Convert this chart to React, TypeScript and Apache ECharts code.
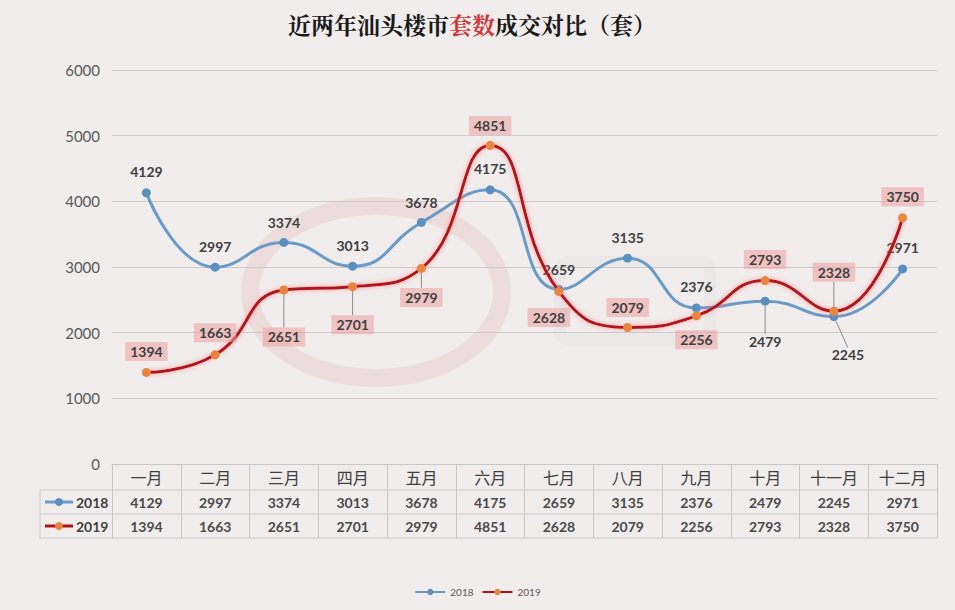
import React, { useEffect, useRef } from "react";
import * as echarts from "echarts";

const months = ["一月", "二月", "三月", "四月", "五月", "六月", "七月", "八月", "九月", "十月", "十一月", "十二月"];
const sales2018 = [4129, 2997, 3374, 3013, 3678, 4175, 2659, 3135, 2376, 2479, 2245, 2971];
const sales2019 = [1394, 1663, 2651, 2701, 2979, 4851, 2628, 2079, 2256, 2793, 2328, 3750];
const seriesNames = ["2018", "2019"];

// label placement (dx, dy from the point) and guide-line flags
const shift2018: number[][] = [[0, -21], [0, -21], [0, -20], [0, -21], [0, -20], [0, -21], [0, -20], [0, -21], [0, -21], [0, 40], [14, 38], [0, -21]];
const guide2018 = [false, false, false, false, false, false, false, false, false, true, true, false];
const shift2019: number[][] = [[0, -21], [0, -22], [0, 47], [0, 38], [0, 29], [0, -20], [-10, 26], [0, -20], [0, 24], [0, -21], [0, -39], [0, -21]];
const guide2019 = [false, false, true, true, true, false, false, false, false, false, true, false];

const BLUE = "#6a9bc6";
const BLUE_DOT = "#5b8fc0";
const RED = "#b0121a";
const ORANGE = "#e8853e";
const TEXT = "#404040";

export default function App() {
  const ref = useRef<HTMLDivElement>(null);
  useEffect(() => {
    if (!ref.current) return;
    const chart = echarts.init(ref.current, undefined, { renderer: "svg" });
    const gridLeft = 112, gridRight = 18, gridTop = 70, gridBottom = 146;
    const H = 610, W = 955;
    const axisY = H - gridBottom;
    const rowH = 24;
    const tableRows = [axisY + 26, axisY + 50, axisY + 74];

    const labelBase = {
      show: true,
      position: "inside" as const,
      fontFamily: "Lato, 'Noto Sans', sans-serif",
      fontWeight: "bold" as const,
      fontSize: 14,
      color: TEXT,
    };

    const mk = (vals: number[], guides: boolean[]) =>
      vals.map((v, i) => ({ value: v, labelLine: { show: guides[i] } }));

    const legendCell = (y: number, color: string, dot: string, name: string) => [
      { type: "line", shape: { x1: 45, y1: y, x2: 73, y2: y }, style: { stroke: color, lineWidth: 3 }, z: 10 },
      { type: "circle", shape: { cx: 59, cy: y, r: 4 }, style: { fill: dot }, z: 11 },
      {
        type: "text", x: 76, y: y, z: 10,
        style: { text: name, fill: TEXT, font: "bold 14px Lato, 'Noto Sans', sans-serif", textVerticalAlign: "middle" },
      },
    ];

    const option: any = {
      animation: false,
      backgroundColor: "#f1eded",
      title: {
        text: "{a|近两年汕头楼市}{b|套数}{a|成交对比（套）}",
        left: 283,
        top: 8,
        textStyle: {
          rich: {
            a: { fontSize: 23, fontWeight: "bold", color: "#1a1a1a", fontFamily: "'Noto Serif CJK SC', 'Noto Sans CJK SC', serif" },
            b: { fontSize: 23, fontWeight: "bold", color: "#d2373a", fontFamily: "'Noto Serif CJK SC', 'Noto Sans CJK SC', serif" },
          },
        },
      },
      legend: {
        bottom: 8,
        left: "center",
        itemWidth: 30,
        itemHeight: 8,
        itemGap: 8,
        textStyle: { fontSize: 10, color: "#595959", fontFamily: "Lato, sans-serif" },
        data: seriesNames,
      },
      grid: { left: gridLeft, right: gridRight, top: gridTop, bottom: gridBottom, containLabel: false },
      xAxis: [
        {
          type: "category",
          data: months,
          boundaryGap: true,
          axisLine: { show: true, lineStyle: { color: "#c8c8c8" } },
          axisTick: { show: true, length: 74, lineStyle: { color: "#c8c8c8" } },
          axisLabel: { margin: 5, fontSize: 16, color: TEXT, fontFamily: "'Noto Sans CJK SC', sans-serif" },
        },
        {
          type: "category",
          data: sales2018.map(String),
          position: "bottom",
          offset: 26,
          axisLine: { show: false },
          axisTick: { show: false },
          axisLabel: { margin: 5, fontSize: 14, fontWeight: "bold", color: "#4a4a4a", fontFamily: "Lato, sans-serif" },
        },
        {
          type: "category",
          data: sales2019.map(String),
          position: "bottom",
          offset: 50,
          axisLine: { show: false },
          axisTick: { show: false },
          axisLabel: { margin: 5, fontSize: 14, fontWeight: "bold", color: "#4a4a4a", fontFamily: "Lato, sans-serif" },
        },
      ],
      yAxis: {
        type: "value",
        min: 0,
        max: 6000,
        interval: 1000,
        axisLine: { show: false },
        axisTick: { show: false },
        axisLabel: {
          margin: 12,
          fontSize: 15,
          color: "#595959",
          fontFamily: "Lato, sans-serif",
          formatter: (v: number) => String(v),
        },
        splitLine: { lineStyle: { color: "#cfcaca" } },
      },
      graphic: [
        {
          type: "ellipse",
          shape: { cx: 376, cy: 292, rx: 126, ry: 86 },
          style: { fill: "none", stroke: "rgba(214,120,120,0.14)", lineWidth: 18 },
          z: -1,
          silent: true,
        },
        {
          type: "rect",
          shape: { x: 560, y: 262, width: 150, height: 78, r: 8 },
          style: { fill: "none", stroke: "rgba(150,150,150,0.06)", lineWidth: 12 },
          z: -1,
          silent: true,
        },
        ...tableRows.map((y) => ({
          type: "line",
          shape: { x1: 40, y1: y, x2: W - gridRight, y2: y },
          style: { stroke: "#c8c8c8", lineWidth: 1 },
        })),
        {
          type: "line",
          shape: { x1: 40, y1: tableRows[0], x2: 40, y2: tableRows[2] },
          style: { stroke: "#c8c8c8", lineWidth: 1 },
        },
        ...legendCell(tableRows[0] + rowH / 2, BLUE, BLUE_DOT, seriesNames[0]),
        ...legendCell(tableRows[1] + rowH / 2, RED, ORANGE, seriesNames[1]),
      ],
      series: [
        {
          name: seriesNames[0],
          type: "line",
          smooth: 0.5,
          data: mk(sales2018, guide2018),
          symbol: "circle",
          symbolSize: 9,
          itemStyle: { color: BLUE_DOT },
          lineStyle: { color: BLUE, width: 3 },
          label: { ...labelBase },
          labelLine: { show: false, lineStyle: { color: "#8a8a8a", width: 1 } },
          labelLayout: (p: any) => ({ dx: shift2018[p.dataIndex][0], dy: shift2018[p.dataIndex][1] }),
          z: 3,
        },
        {
          name: seriesNames[1],
          type: "line",
          smooth: 0.5,
          data: mk(sales2019, guide2019),
          symbol: "circle",
          symbolSize: 9,
          itemStyle: { color: ORANGE },
          lineStyle: { color: RED, width: 3, shadowColor: "rgba(255,140,140,0.9)", shadowBlur: 5 },
          label: { ...labelBase, backgroundColor: "rgba(238,160,160,0.55)", padding: [3, 5, 2, 5] },
          labelLine: { show: false, lineStyle: { color: "#8a8a8a", width: 1 } },
          labelLayout: (p: any) => ({ dx: shift2019[p.dataIndex][0], dy: shift2019[p.dataIndex][1] }),
          z: 4,
        },
      ],
    };
    chart.setOption(option);
    return () => chart.dispose();
  }, []);
  return (
    <div
      ref={ref}
      style={{ position: "fixed", left: 0, top: 0, width: 955, height: 610 }}
    />
  );
}
